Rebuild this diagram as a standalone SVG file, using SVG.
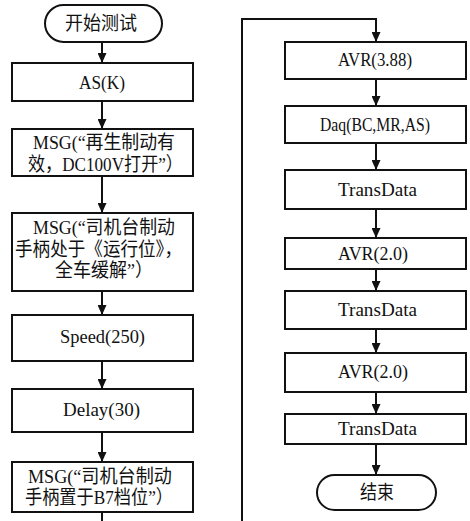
<svg xmlns="http://www.w3.org/2000/svg" width="470" height="521" viewBox="0 0 470 521">
<style>
.b{fill:#fff;stroke:#111;stroke-width:2}
.t{font-family:"Liberation Serif","Noto Sans CJK SC",serif;font-size:19px;fill:#111}
.c{stroke:#111;stroke-width:2;fill:none}
</style>
<defs>
<marker id="ah" markerUnits="userSpaceOnUse" markerWidth="10" markerHeight="9" refX="10" refY="4.5" orient="auto">
<path d="M0,0 L10,4.5 L0,9 z" fill="#111"/>
</marker>
</defs>
<rect width="470" height="521" fill="#fff"/>
<g id="connectors">
<line class="c" x1="102" y1="42" x2="102" y2="63" marker-end="url(#ah)"/>
<line class="c" x1="102" y1="101" x2="102" y2="129" marker-end="url(#ah)"/>
<line class="c" x1="102" y1="176" x2="102" y2="213" marker-end="url(#ah)"/>
<line class="c" x1="102" y1="291" x2="102" y2="315" marker-end="url(#ah)"/>
<line class="c" x1="102" y1="361" x2="102" y2="389" marker-end="url(#ah)"/>
<line class="c" x1="102" y1="432" x2="102" y2="462" marker-end="url(#ah)"/>
<line class="c" x1="102" y1="512" x2="102" y2="521"/>
<polyline class="c" points="242,521 242,19 376,19 376,42" marker-end="url(#ah)"/>
<line class="c" x1="376" y1="79" x2="376" y2="106" marker-end="url(#ah)"/>
<line class="c" x1="376" y1="143" x2="376" y2="170" marker-end="url(#ah)"/>
<line class="c" x1="376" y1="209" x2="376" y2="238" marker-end="url(#ah)"/>
<line class="c" x1="376" y1="269" x2="376" y2="291" marker-end="url(#ah)"/>
<line class="c" x1="376" y1="329" x2="376" y2="353" marker-end="url(#ah)"/>
<line class="c" x1="376" y1="392" x2="376" y2="414" marker-end="url(#ah)"/>
<line class="c" x1="376" y1="444" x2="376" y2="475" marker-end="url(#ah)"/>
</g>
<g id="start"><rect class="b" x="45" y="5" width="117" height="37" rx="18.5"/>
<text class="t" x="65" y="30" textLength="72" lengthAdjust="spacingAndGlyphs">开始测试</text></g>
<g id="as"><rect class="b" x="12" y="63" width="181" height="38"/>
<text class="t" x="79" y="89" textLength="46" lengthAdjust="spacingAndGlyphs">AS(K)</text></g>
<g id="msg1"><rect class="b" x="12" y="129" width="181" height="47"/>
<text class="t" x="33" y="149" textLength="142" lengthAdjust="spacingAndGlyphs">MSG(“再生制动有</text>
<text class="t" x="28" y="171" textLength="155" lengthAdjust="spacingAndGlyphs">效，DC100V打开”）</text></g>
<g id="msg2"><rect class="b" x="12" y="213" width="181" height="78"/>
<text class="t" x="33" y="234" textLength="142" lengthAdjust="spacingAndGlyphs">MSG(“司机台制动</text>
<text class="t" x="15" y="256" textLength="167" lengthAdjust="spacingAndGlyphs">手柄处于《运行位》，</text>
<text class="t" x="55" y="277" textLength="98" lengthAdjust="spacingAndGlyphs">全车缓解”）</text></g>
<g id="speed"><rect class="b" x="12" y="315" width="181" height="46"/>
<text class="t" x="60" y="343" textLength="85" lengthAdjust="spacingAndGlyphs">Speed(250)</text></g>
<g id="delay"><rect class="b" x="12" y="389" width="181" height="43"/>
<text class="t" x="63" y="416" textLength="77" lengthAdjust="spacingAndGlyphs">Delay(30)</text></g>
<g id="msg3"><rect class="b" x="12" y="462" width="181" height="50"/>
<text class="t" x="28" y="483" textLength="144" lengthAdjust="spacingAndGlyphs">MSG(“司机台制动</text>
<text class="t" x="25" y="504" textLength="148" lengthAdjust="spacingAndGlyphs">手柄置于B7档位”）</text></g>
<g id="avr1"><rect class="b" x="285" y="42" width="181" height="37"/>
<text class="t" x="338" y="66" textLength="74" lengthAdjust="spacingAndGlyphs">AVR(3.88)</text></g>
<g id="daq"><rect class="b" x="285" y="106" width="181" height="37"/>
<text class="t" x="320" y="131" textLength="110" lengthAdjust="spacingAndGlyphs">Daq(BC,MR,AS)</text></g>
<g id="trans1"><rect class="b" x="285" y="170" width="181" height="39"/>
<text class="t" x="338" y="196" textLength="79" lengthAdjust="spacingAndGlyphs">TransData</text></g>
<g id="avr2"><rect class="b" x="285" y="238" width="181" height="31"/>
<text class="t" x="338" y="260" textLength="70" lengthAdjust="spacingAndGlyphs">AVR(2.0)</text></g>
<g id="trans2"><rect class="b" x="285" y="291" width="181" height="38"/>
<text class="t" x="338" y="316" textLength="79" lengthAdjust="spacingAndGlyphs">TransData</text></g>
<g id="avr3"><rect class="b" x="285" y="353" width="181" height="39"/>
<text class="t" x="338" y="378" textLength="70" lengthAdjust="spacingAndGlyphs">AVR(2.0)</text></g>
<g id="trans3"><rect class="b" x="285" y="414" width="181" height="30"/>
<text class="t" x="338" y="435" textLength="79" lengthAdjust="spacingAndGlyphs">TransData</text></g>
<g id="end"><rect class="b" x="317" y="475" width="119" height="35" rx="17.5"/>
<text class="t" x="360" y="499" textLength="34" lengthAdjust="spacingAndGlyphs">结束</text></g>
</svg>
